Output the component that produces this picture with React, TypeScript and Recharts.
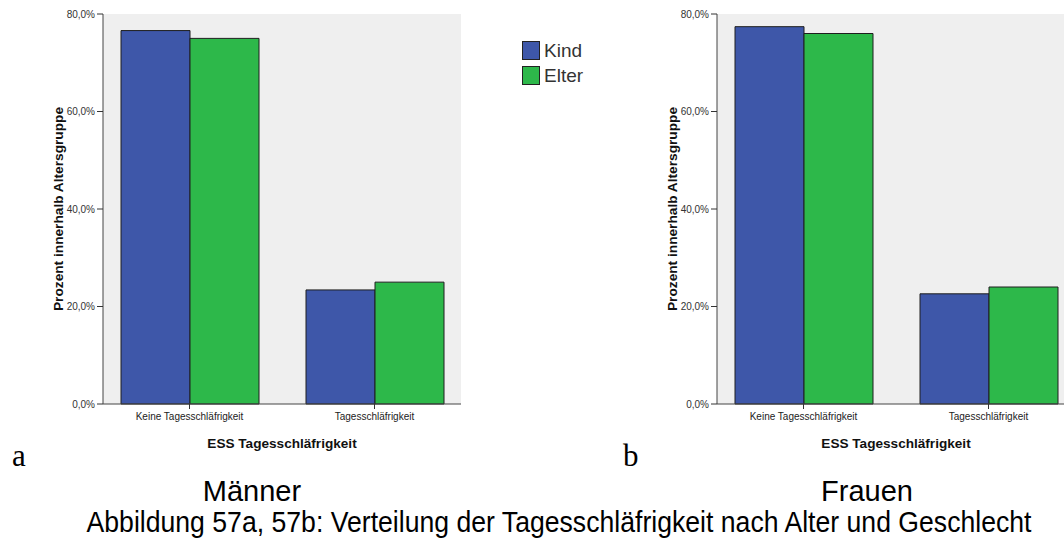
import React from 'react';
import { BarChart, Bar, XAxis, YAxis, CartesianGrid, Legend } from 'recharts';

const categories = ['Keine Tagesschläfrigkeit', 'Tagesschläfrigkeit'];
const seriesNames = ['Kind', 'Elter'];
const maennerKind = [76.6, 23.4];
const maennerElter = [75.0, 25.0];
const frauenKind = [77.4, 22.6];
const frauenElter = [76.0, 24.0];
const yTicks = [0, 20, 40, 60, 80];
const panelLetters = ['a', 'b'];
const panelTitles = ['Männer', 'Frauen'];
const caption = 'Abbildung 57a, 57b: Verteilung der Tagesschläfrigkeit nach Alter und Geschlecht';
const xTitle = 'ESS Tagesschläfrigkeit';
const yTitle = 'Prozent innerhalb Altersgruppe';

const BLUE = '#3e57a9';
const GREEN = '#2db84a';
const SANS = '"Liberation Sans", Arial, sans-serif';

const buildData = (kind: number[], elter: number[]) =>
  categories.map((c, i) => ({ cat: c, kind: kind[i], elter: elter[i] }));

const fmt = (v: number) => v.toFixed(1).replace('.', ',') + '%';

const LegendContent = (props: any) => {
  const payload = [...(props.payload || [])].sort(
    (a: any, b: any) => seriesNames.indexOf(a.value) - seriesNames.indexOf(b.value)
  );
  return (
    <div style={{ fontFamily: SANS, fontSize: 19, color: '#333' }}>
      {payload.map((e: any, i: number) => (
        <div key={i} style={{ display: 'flex', alignItems: 'center', height: 25 }}>
          <div style={{ width: 16, height: 17, background: e.color, border: '1px solid #222', marginRight: 4 }} />
          <span style={{ lineHeight: '19px' }}>{e.value}</span>
        </div>
      ))}
    </div>
  );
};

const XTitle = (props: any) => {
  const vb = props.viewBox;
  return (
    <text x={vb.x + vb.width / 2} y={vb.y + 44} textAnchor="middle" fontFamily={SANS} fontWeight="bold" fontSize={13.6} fill="#111">
      {xTitle}
    </text>
  );
};

const YTitle = (props: any) => {
  const vb = props.viewBox;
  const cx = vb.x + 15.5;
  const cy = vb.y + vb.height / 2;
  return (
    <text x={cx} y={cy} transform={`rotate(-90 ${cx} ${cy})`} textAnchor="middle" dominantBaseline="central" fontFamily={SANS} fontWeight="bold" fontSize={13.7} fill="#111">
      {yTitle}
    </text>
  );
};

const Panel = ({ kind, elter, legend }: { kind: number[]; elter: number[]; legend: boolean }) => {
  const data = buildData(kind, elter);
  return (
    <BarChart width={600} height={460} data={data} margin={{ top: 14, right: 139, bottom: 0, left: 43 }} barGap={0} barSize={69}>
      <CartesianGrid fill="#efefef" horizontal={false} vertical={false} />
      <XAxis
        dataKey="cat"
        height={56}
        padding={{ left: -6, right: -6 }}
        tickSize={5}
        tickMargin={4}
        tick={{ fontSize: 10, fill: '#222', fontFamily: SANS }}
        tickLine={{ stroke: '#333' }}
        axisLine={{ stroke: '#444' }}
        interval={0}
        label={{ content: XTitle }}
      />
      <XAxis xAxisId="top" dataKey="cat" orientation="top" height={0} tick={false} tickLine={false} axisLine={{ stroke: '#8a8a8a' }} />
      <YAxis
        width={60}
        domain={[0, 80]}
        ticks={yTicks}
        tickFormatter={fmt}
        tickSize={6}
        tickMargin={2}
        tick={{ fontSize: 10, fill: '#333', fontFamily: SANS }}
        tickLine={{ stroke: '#333' }}
        axisLine={{ stroke: '#444' }}
        label={{ content: YTitle }}
      />
      <YAxis yAxisId="right" orientation="right" width={0} domain={[0, 80]} tick={false} tickLine={false} axisLine={{ stroke: '#8a8a8a' }} />
      <Bar dataKey="kind" name={seriesNames[0]} fill={BLUE} stroke="#1e1e1e" strokeWidth={1} isAnimationActive={false} />
      <Bar dataKey="elter" name={seriesNames[1]} fill={GREEN} stroke="#1e1e1e" strokeWidth={1} isAnimationActive={false} />
      {legend && (
        <Legend
          layout="vertical"
          align="center"
          verticalAlign="middle"
          wrapperStyle={{ position: 'absolute', left: 522, top: 38, width: 'auto' }}
          content={LegendContent}
        />
      )}
    </BarChart>
  );
};

export default function App() {
  return (
    <div style={{ position: 'absolute', left: 0, top: 0, width: 1064, height: 538, overflow: 'hidden', background: '#fff' }}>
      <div style={{ position: 'absolute', left: 0, top: 0 }}>
        <Panel kind={maennerKind} elter={maennerElter} legend={true} />
      </div>
      <div style={{ position: 'absolute', left: 614, top: 0 }}>
        <Panel kind={frauenKind} elter={frauenElter} legend={false} />
      </div>
      <svg width={1064} height={538} style={{ position: 'absolute', left: 0, top: 0, pointerEvents: 'none' }}>
        <text x={12} y={466} fontFamily='"Liberation Serif", "Times New Roman", serif' fontSize={31} fill="#000">{panelLetters[0]}</text>
        <text x={623} y={466} fontFamily='"Liberation Serif", "Times New Roman", serif' fontSize={31} fill="#000">{panelLetters[1]}</text>
        <text x={252} y={501} textAnchor="middle" fontFamily={SANS} fontSize={29} fill="#000">{panelTitles[0]}</text>
        <text x={867} y={501} textAnchor="middle" fontFamily={SANS} fontSize={29} fill="#000">{panelTitles[1]}</text>
        <g transform="translate(559,532) scale(0.918,1)">
          <text x={0} y={0} textAnchor="middle" fontFamily={SANS} fontSize={29} fill="#000">{caption}</text>
        </g>
      </svg>
    </div>
  );
}
